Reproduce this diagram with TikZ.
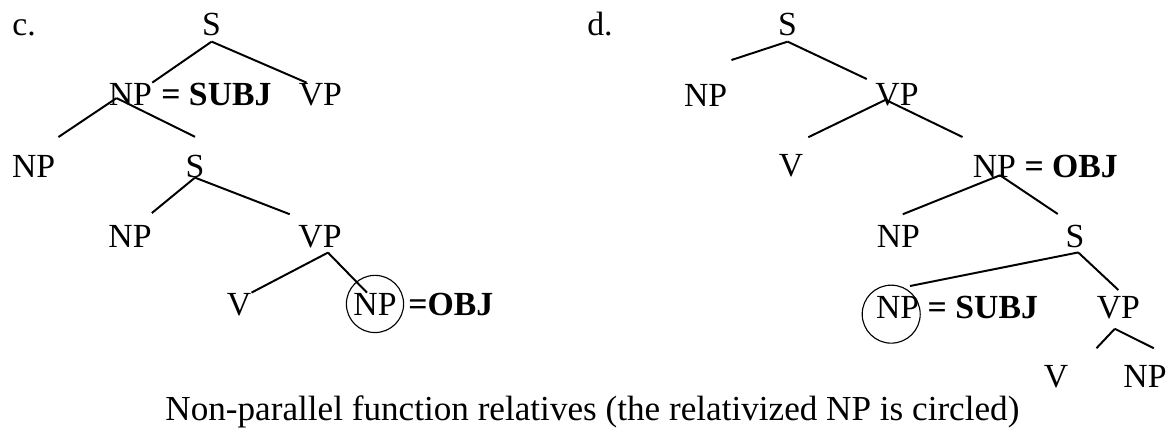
\documentclass[tikz,border=0pt]{standalone}
\usepackage{fontspec}
\setmainfont{Liberation Serif}
\usepackage{tikz}
\usetikzlibrary{positioning}

\begin{document}
\begin{tikzpicture}[
  lab/.style={anchor=base,inner sep=0pt,font=\fontsize{24}{28}\selectfont},
  tag/.style={inner sep=0pt,font=\fontsize{24}{28}\selectfont\bfseries},
  ring/.style={draw,circle,line width=0.8pt,minimum size=1.43cm,inner sep=0pt},
  branch/.style={line width=1.4pt}]
\useasboundingbox (0,0) rectangle (29.4,-10.725);

% tree c
\node[lab,anchor=base west] (lblc) at (0.30,-0.875) {c.};
\node[lab] (sc1) at (5.29,-0.875) {S};
\node[lab] (npc1) at (3.26,-2.625) {NP};
\node[tag,base right=0.22cm of npc1] (subjc) {= SUBJ};
\node[lab] (vpc1) at (8.01,-2.625) {VP};
\node[lab] (npc2) at (0.84,-4.425) {NP};
\node[lab] (sc2) at (4.875,-4.425) {S};
\node[lab] (npc3) at (3.25,-6.175) {NP};
\node[lab] (vpc2) at (8.0,-6.175) {VP};
\node[lab] (vc) at (5.975,-7.875) {V};
\node[lab] (npc4) at (9.375,-7.875) {NP};
\node[tag,base right=0.28cm of npc4] (objc) {=OBJ};
\node[ring] (relc) at (npc4.center) {};

\draw[branch] ([yshift=-0.15cm]sc1.south) -- (npc1.north east);
\draw[branch] ([yshift=-0.15cm]sc1.south) -- ([xshift=0.2cm]vpc1.north west);
\draw[branch] ([shift={(0.2,0.18)}]npc1.south west) -- ([shift={(0.075,0.44)}]npc2.north east);
\draw[branch] ([shift={(0.2,0.18)}]npc1.south west) -- ([yshift=0.44cm]sc2.north);
\draw[branch] (sc2.south) -- ([yshift=0.29cm]npc3.north east);
\draw[branch] (sc2.south) -- ([shift={(-0.21,0.26)}]vpc2.north west);
\draw[branch] ([shift={(0.2,-0.12)}]vpc2.south) -- (vc.north east);
\draw[branch] ([shift={(0.2,-0.12)}]vpc2.south) -- ([xshift=-0.2cm]npc4.north);

% tree d
\node[lab,anchor=base west] (lbld) at (14.675,-0.875) {d.};
\node[lab] (sd1) at (19.69,-0.875) {S};
\node[lab] (npd1) at (17.64,-2.65) {NP};
\node[lab] (vpd1) at (22.425,-2.625) {VP};
\node[lab] (vd1) at (19.775,-4.4) {V};
\node[lab] (npd2) at (24.86,-4.425) {NP};
\node[tag,base right=0.2cm of npd2] (objd) {= OBJ};
\node[lab] (npd3) at (22.46,-6.175) {NP};
\node[lab] (sd2) at (26.875,-6.175) {S};
\node[lab] (npd4) at (22.44,-7.95) {NP};
\node[tag,base right=0.2cm of npd4] (subjd) {= SUBJ};
\node[lab] (vpd2) at (27.96,-7.95) {VP};
\node[lab] (vd2) at (26.4,-9.675) {V};
\node[lab] (npd5) at (28.625,-9.675) {NP};
\node[ring,minimum size=1.45cm] (reld) at ([shift={(-0.16,-0.18)}]npd4.center) {};

\draw[branch] ([yshift=-0.15cm]sd1.south) -- ([shift={(0.1,0.59)}]npd1.north east);
\draw[branch] ([yshift=-0.15cm]sd1.south) -- ([shift={(-0.21,0.09)}]vpd1.north west);
\draw[branch] ([shift={(0.26,0.15)}]vpd1.south west) -- ([shift={(0.12,0.41)}]vd1.north east);
\draw[branch] ([shift={(0.26,0.15)}]vpd1.south west) -- ([shift={(-0.25,0.44)}]npd2.north west);
\draw[branch] ([shift={(0.14,0.05)}]npd2.south) -- ([shift={(0.11,0.26)}]npd3.north);
\draw[branch] ([shift={(0.14,0.05)}]npd2.south) -- ([shift={(-0.19,0.26)}]sd2.north west);
\draw[branch] ([shift={(0.08,-0.12)}]sd2.south) -- ([shift={(0.31,0.24)}]npd4.north);
\draw[branch] ([shift={(0.08,-0.12)}]sd2.south) -- ([yshift=0.14cm]vpd2.north);
\draw[branch] ([shift={(-0.09,-0.25)}]vpd2.south) -- ([shift={(0.7,0.41)}]vd2.north east);
\draw[branch] ([shift={(-0.09,-0.25)}]vpd2.south) -- ([shift={(0.22,0.41)}]npd5.north);

\node[anchor=base,inner sep=0pt,font=\fontsize{25}{30}\selectfont] (capt) at (14.81,-10.5)
  {Non-parallel function relatives (the relativized NP is circled)};
\end{tikzpicture}
\end{document}
